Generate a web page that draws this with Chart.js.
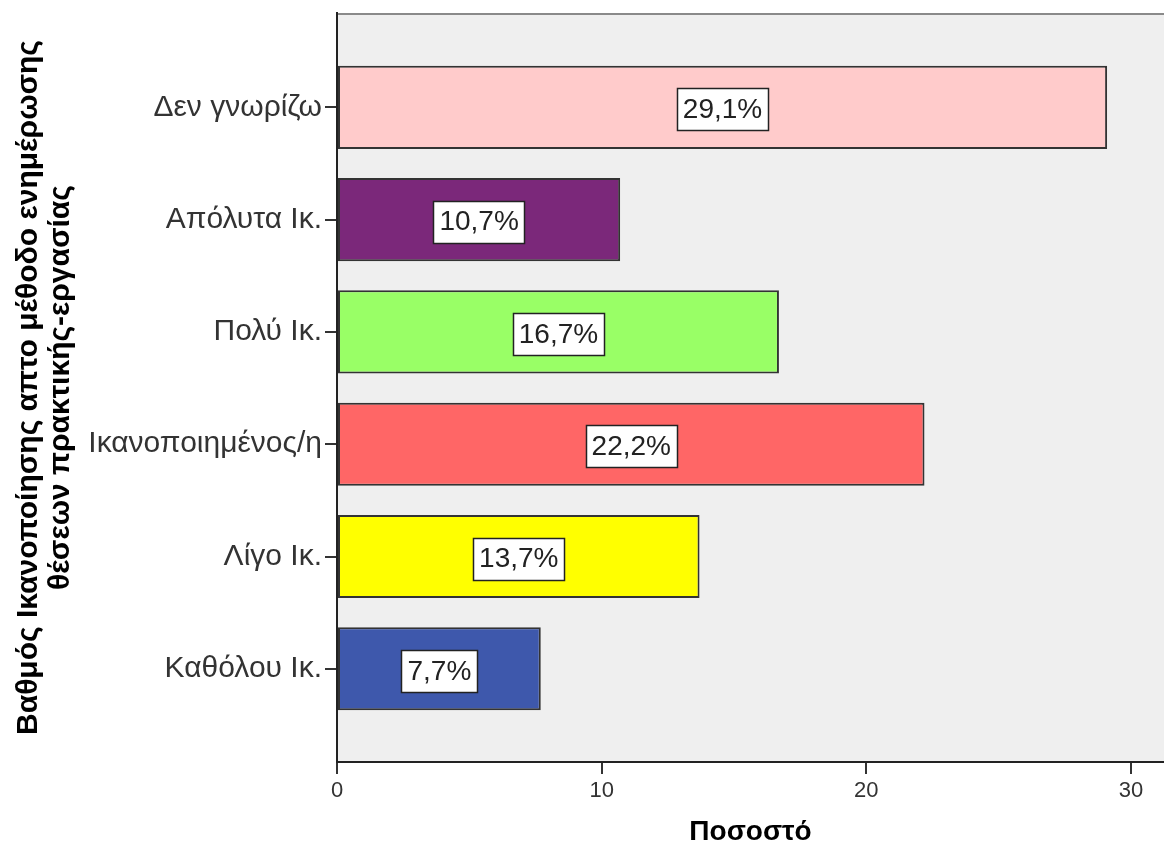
<!DOCTYPE html>
<html>
<head>
<meta charset="utf-8">
<script src="https://cdn.jsdelivr.net/npm/chart.js@4.4.1/dist/chart.umd.min.js"></script>
<style>
  html, body { margin: 0; padding: 0; background: #ffffff; }
  #wrap { width: 1164px; height: 846px; }
</style>
</head>
<body>
<div id="wrap"><canvas id="chart" width="1164" height="846"></canvas></div>
<script>
// Satisfaction categories, top to bottom
const categories = ['Δεν γνωρίζω', 'Απόλυτα Ικ.', 'Πολύ Ικ.', 'Ικανοποιημένος/η', 'Λίγο Ικ.', 'Καθόλου Ικ.'];
// Percentage of respondents per category
const percentages = [29.1, 10.7, 16.7, 22.2, 13.7, 7.7];
// Fill colour of each bar
const barColors = ['#FFCBCB', '#7B287A', '#99FF66', '#FF6666', '#FFFF00', '#3E58AC'];
// Value axis tick labels
const xTickValues = [0, 10, 20, 30];

const yTitle = ['Βαθμός Ικανοποίησης απτο μέθοδο ενημέρωσης', 'θέσεων πρακτικής-εργασίας'];
const xTitle = 'Ποσοστό';

const FONT = "'Liberation Sans', Arial, sans-serif";

// Grey plot background with a thin top frame line
const plotBackground = {
  id: 'plotBackground',
  beforeDraw(chart) {
    const { ctx, chartArea: a } = chart;
    ctx.save();
    ctx.fillStyle = '#EFEFEF';
    ctx.fillRect(a.left, a.top, a.right - a.left, a.bottom - a.top);
    ctx.strokeStyle = '#8a8a8a';
    ctx.lineWidth = 2;
    ctx.beginPath();
    ctx.moveTo(a.left, a.top + 1);
    ctx.lineTo(a.right, a.top + 1);
    ctx.stroke();
    ctx.restore();
  }
};

// Boxed percentage label in the middle of each bar
const boxedLabels = {
  id: 'boxedLabels',
  afterDatasetsDraw(chart) {
    const { ctx } = chart;
    const meta = chart.getDatasetMeta(0);
    ctx.save();
    ctx.font = "28px " + FONT;
    ctx.textAlign = 'center';
    ctx.textBaseline = 'middle';
    meta.data.forEach((bar, i) => {
      const text = percentages[i].toFixed(1).replace('.', ',') + '%';
      const cx = (bar.base + bar.x) / 2;
      const cy = bar.y + 2;
      const w = ctx.measureText(text).width + 12;
      const h = 42;
      const left = Math.round(cx - w / 2);
      const top = Math.round(cy - h / 2);
      ctx.fillStyle = '#ffffff';
      ctx.fillRect(left, top, Math.round(w), h);
      ctx.strokeStyle = '#222222';
      ctx.lineWidth = 1.5;
      ctx.strokeRect(left + 0.5, top + 0.5, Math.round(w), h);
      ctx.fillStyle = '#222222';
      ctx.fillText(text, cx, cy + 1);
    });
    ctx.restore();
  }
};

new Chart(document.getElementById('chart'), {
  type: 'bar',
  data: {
    datasets: [{
      data: percentages.map((v, i) => ({ x: v, y: i })),
      backgroundColor: barColors,
      borderColor: '#333333',
      borderWidth: 2,
      borderSkipped: false,
      categoryPercentage: 1,
      barPercentage: 0.74
    }]
  },
  options: {
    indexAxis: 'y',
    responsive: false,
    animation: false,
    layout: { padding: { top: 13, right: 0, bottom: 0, left: 0 } },
    plugins: { legend: { display: false }, tooltip: { enabled: false } },
    scales: {
      x: {
        type: 'linear',
        min: 0,
        max: 31.25,
        afterFit(scale) { scale.height = 84; },
        afterBuildTicks(scale) { scale.ticks = xTickValues.map(v => ({ value: v })); },
        border: { display: true, color: '#222222', width: 2 },
        grid: { drawOnChartArea: false, drawTicks: true, tickLength: 12, color: '#333333', lineWidth: 2 },
        ticks: { padding: 4, color: '#333333', font: { family: FONT, size: 22 }, maxRotation: 0 },
        title: {
          display: true, text: xTitle, color: '#000000',
          font: { family: FONT, size: 28, weight: 'bold', lineHeight: 1 },
          padding: { top: 0, bottom: 0 }
        }
      },
      y: {
        type: 'linear',
        reverse: true,
        offset: false,
        min: -0.84,
        max: 5.83,
        afterFit(scale) {
          scale.width = 337;
          scale.paddingTop = 0;
          scale.paddingBottom = 0;
        },
        afterBuildTicks(scale) { scale.ticks = categories.map((_, i) => ({ value: i })); },
        border: { display: true, color: '#222222', width: 2 },
        grid: { offset: false, drawOnChartArea: false, drawTicks: true, tickLength: 12, color: '#333333', lineWidth: 2 },
        ticks: {
          padding: 3, color: '#333333', font: { family: FONT, size: 30 },
          callback: (v) => categories[v]
        },
        title: {
          display: true, text: yTitle, color: '#000000',
          font: { family: FONT, size: 30, weight: 'bold', lineHeight: 1.07 },
          padding: { top: 13, bottom: 0 }
        }
      }
    }
  },
  plugins: [plotBackground, boxedLabels]
});
</script>
</body>
</html>
